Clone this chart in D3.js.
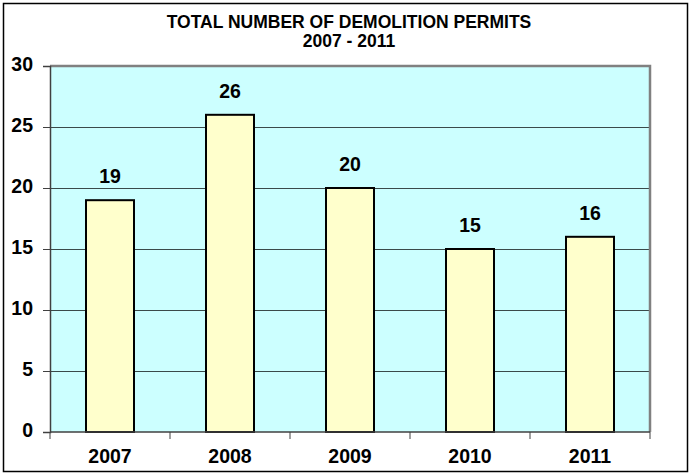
<!DOCTYPE html>
<html>
<head>
<meta charset="utf-8">
<script src="https://cdn.jsdelivr.net/npm/d3@7"></script>
<style>
  body { margin: 0; background: #fff; }
  text { font-family: "Liberation Sans", Arial, sans-serif; font-weight: bold; fill: #000; }
</style>
</head>
<body>
<div id="chart"></div>
<script>
// data
const years = ["2007", "2008", "2009", "2010", "2011"]
const permits = [19, 26, 20, 15, 16]
const yTicks = [0, 5, 10, 15, 20, 25, 30]
const titleLines = ["TOTAL NUMBER OF DEMOLITION PERMITS", "2007 - 2011"]

const width = 691
const height = 475
const margin = { top: 66, right: 41, bottom: 43, left: 50 }

const svg = d3.select("#chart").append("svg")
    .attr("width", width)
    .attr("height", height)

// outer frame
svg.append("rect")
    .attr("x", 3.5).attr("y", 3.5)
    .attr("width", width - 7).attr("height", height - 7)
    .attr("fill", "#fff")
    .attr("stroke", "#000")
    .attr("stroke-width", 1.5)

const x = d3.scaleBand()
    .domain(years)
    .range([margin.left, width - margin.right])
    .paddingInner(0.6)
    .paddingOuter(0.3)

const y = d3.scaleLinear()
    .domain([0, 30])
    .range([height - margin.bottom, margin.top])

// plot background
svg.append("rect")
    .attr("x", margin.left).attr("y", margin.top)
    .attr("width", width - margin.left - margin.right)
    .attr("height", y(0) - margin.top)
    .attr("fill", "#ccffff")

// gridlines
svg.append("g")
    .selectAll("line")
    .data(yTicks.filter(d => d > 0 && d < 30))
    .enter().append("line")
    .attr("x1", margin.left).attr("x2", width - margin.right)
    .attr("y1", d => y(d) + 0.5).attr("y2", d => y(d) + 0.5)
    .attr("stroke", "#3a4a4a")
    .attr("stroke-width", 1)

// grey border top and right
svg.append("path")
    .attr("d", `M${margin.left},${margin.top} H${width - margin.right} V${y(0)}`)
    .attr("fill", "none")
    .attr("stroke", "#808080")
    .attr("stroke-width", 2.5)

// bars
svg.append("g")
    .selectAll("rect")
    .data(permits)
    .enter().append("rect")
    .attr("x", (d, i) => x(years[i]))
    .attr("y", d => y(d))
    .attr("width", x.bandwidth())
    .attr("height", d => y(0) - y(d))
    .attr("fill", "#ffffcc")
    .attr("stroke", "#000")
    .attr("stroke-width", 2)

// value labels
svg.append("g")
    .selectAll("text")
    .data(permits)
    .enter().append("text")
    .attr("x", (d, i) => x(years[i]) + x.bandwidth() / 2)
    .attr("y", d => y(d) - 17)
    .attr("text-anchor", "middle")
    .attr("font-size", "19.5px")
    .text(d => d)

// y axis
const yAxis = d3.axisLeft(y).tickValues(yTicks).tickSize(7).tickPadding(10)
const gy = svg.append("g")
    .attr("transform", `translate(${margin.left},0)`)
    .call(yAxis)
gy.select(".domain").attr("stroke", "#404040").attr("stroke-width", 1.5)
gy.selectAll(".tick line").attr("stroke", "#404040")
gy.selectAll(".tick text")
    .attr("font-size", "19.5px")
    .attr("font-family", "Liberation Sans, Arial, sans-serif")
    .attr("font-weight", "bold")
    .attr("fill", "#000")
    .attr("dy", "0.22em")

// x axis, ticks at band edges
const gx = svg.append("g")
    .attr("transform", `translate(0,${y(0)})`)
gx.append("line")
    .attr("x1", margin.left).attr("x2", width - margin.right)
    .attr("stroke", "#404040").attr("stroke-width", 1.5)
gx.selectAll(".edge")
    .data(d3.range(years.length + 1))
    .enter().append("line")
    .attr("x1", i => margin.left + i * (width - margin.left - margin.right) / years.length)
    .attr("x2", i => margin.left + i * (width - margin.left - margin.right) / years.length)
    .attr("y1", 0).attr("y2", 7)
    .attr("stroke", "#404040")
gx.selectAll(".lbl")
    .data(years)
    .enter().append("text")
    .attr("x", d => x(d) + x.bandwidth() / 2)
    .attr("y", 31)
    .attr("text-anchor", "middle")
    .attr("font-size", "19.5px")
    .text(d => d)

// title
svg.append("g")
    .selectAll("text")
    .data(titleLines)
    .enter().append("text")
    .attr("x", 349)
    .attr("y", (d, i) => 28 + i * 19)
    .attr("text-anchor", "middle")
    .attr("font-size", "17.5px")
    .text(d => d)
</script>
</body>
</html>
